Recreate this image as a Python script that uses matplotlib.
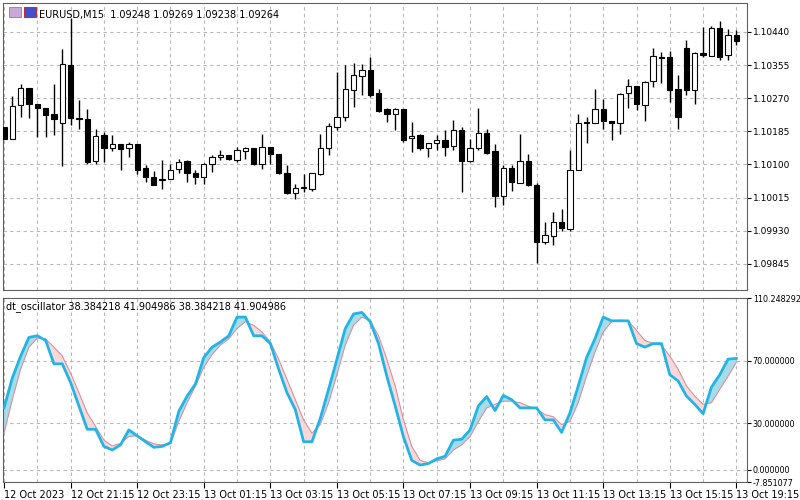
import matplotlib.pyplot as plt
from matplotlib.patches import Rectangle
import numpy as np

# EURUSD M15 candles (open, high, low, close)
opens = [1.10197, 1.10166, 1.10253, 1.10296, 1.10255, 1.10246, 1.10229, 1.10207, 1.10356, 1.10218,
         1.10216, 1.10109, 1.10176, 1.10143, 1.10152, 1.10143, 1.10152, 1.10092, 1.10068, 1.10060,
         1.10062, 1.10089, 1.10108, 1.10078, 1.10069, 1.10102, 1.10118, 1.10124, 1.10111, 1.10135,
         1.10142, 1.10100, 1.10145, 1.10126, 1.10079, 1.10027, 1.10040, 1.10038, 1.10076, 1.10141,
         1.10195, 1.10221, 1.10291, 1.10327, 1.10343, 1.10284, 1.10241, 1.10229, 1.10241, 1.10168,
         1.10175, 1.10141, 1.10154, 1.10162, 1.10147, 1.10188, 1.10109, 1.10141, 1.10181, 1.10134,
         1.10019, 1.10092, 1.10053, 1.10109, 1.10046, 1.09900, 1.09917, 1.09952, 1.09934, 1.10085,
         1.10205, 1.10207, 1.10241, 1.10212, 1.10205, 1.10284, 1.10302, 1.10252, 1.10315, 1.10373,
         1.10376, 1.10293, 1.10399, 1.10290, 1.10386, 1.10379, 1.10449, 1.10380, 1.10433]
highs = [1.10197, 1.10276, 1.10307, 1.10296, 1.10255, 1.10246, 1.10307, 1.10396, 1.10476, 1.10266,
         1.10243, 1.10192, 1.10184, 1.10175, 1.10152, 1.10158, 1.10152, 1.10098, 1.10083, 1.10111,
         1.10102, 1.10115, 1.10111, 1.10085, 1.10104, 1.10124, 1.10136, 1.10124, 1.10145, 1.10145,
         1.10142, 1.10179, 1.10145, 1.10126, 1.10098, 1.10050, 1.10075, 1.10079, 1.10179, 1.10205,
         1.10336, 1.10356, 1.10360, 1.10358, 1.10376, 1.10293, 1.10244, 1.10244, 1.10241, 1.10210,
         1.10179, 1.10154, 1.10175, 1.10188, 1.10214, 1.10197, 1.10166, 1.10244, 1.10190, 1.10152,
         1.10098, 1.10098, 1.10179, 1.10128, 1.10052, 1.09952, 1.09977, 1.09986, 1.10136, 1.10229,
         1.10221, 1.10293, 1.10268, 1.10212, 1.10284, 1.10320, 1.10302, 1.10313, 1.10399, 1.10388,
         1.10390, 1.10330, 1.10420, 1.10388, 1.10453, 1.10455, 1.10467, 1.10448, 1.10446]
lows = [1.10166, 1.10164, 1.10222, 1.10218, 1.10171, 1.10171, 1.10175, 1.10096, 1.10201, 1.10192,
        1.10100, 1.10102, 1.10106, 1.10135, 1.10087, 1.10118, 1.10076, 1.10055, 1.10046, 1.10036,
        1.10062, 1.10079, 1.10055, 1.10050, 1.10050, 1.10081, 1.10112, 1.10112, 1.10106, 1.10115,
        1.10098, 1.10089, 1.10102, 1.10076, 1.10025, 1.10012, 1.10029, 1.10033, 1.10072, 1.10125,
        1.10188, 1.10212, 1.10248, 1.10278, 1.10272, 1.10235, 1.10210, 1.10188, 1.10158, 1.10132,
        1.10138, 1.10119, 1.10138, 1.10121, 1.10138, 1.10029, 1.10106, 1.10136, 1.10126, 1.09992,
        1.09995, 1.10033, 1.10053, 1.10044, 1.09848, 1.09897, 1.09894, 1.09930, 1.09930, 1.10085,
        1.10154, 1.10205, 1.10191, 1.10162, 1.10179, 1.10244, 1.10240, 1.10211, 1.10298, 1.10310,
        1.10259, 1.10191, 1.10277, 1.10255, 1.10376, 1.10377, 1.10369, 1.10369, 1.10407]
closes = [1.10166, 1.10250, 1.10296, 1.10255, 1.10244, 1.10228, 1.10216, 1.10358, 1.10218, 1.10216,
          1.10106, 1.10173, 1.10143, 1.10152, 1.10139, 1.10152, 1.10087, 1.10068, 1.10046, 1.10062,
          1.10087, 1.10106, 1.10078, 1.10068, 1.10102, 1.10119, 1.10124, 1.10115, 1.10136, 1.10142,
          1.10100, 1.10145, 1.10126, 1.10078, 1.10026, 1.10040, 1.10042, 1.10079, 1.10142, 1.10198,
          1.10221, 1.10293, 1.10330, 1.10343, 1.10278, 1.10237, 1.10229, 1.10242, 1.10162, 1.10173,
          1.10141, 1.10154, 1.10162, 1.10145, 1.10188, 1.10109, 1.10141, 1.10181, 1.10130, 1.10019,
          1.10092, 1.10055, 1.10109, 1.10046, 1.09900, 1.09919, 1.09952, 1.09936, 1.10087, 1.10205,
          1.10209, 1.10241, 1.10212, 1.10205, 1.10281, 1.10302, 1.10255, 1.10311, 1.10377, 1.10376,
          1.10291, 1.10222, 1.10290, 1.10386, 1.10381, 1.10449, 1.10376, 1.10433, 1.10416]

# dt_oscillator lines
fast = [39.7, 59, 73, 85, 86, 83, 68, 68, 56, 41, 26, 26, 15, 12.7, 16, 25.6, 21.8, 18, 14.4, 15,
        17.4, 37.5, 47.3, 55, 72, 78.7, 82, 86, 98, 98, 86, 86, 81, 64.6, 49.5, 38.6, 18, 18, 33, 51.6,
        71, 90.6, 100, 101, 95, 81, 60, 41, 21, 6, 3, 4, 7, 8.7, 19, 19.6, 25.6, 41, 47, 38,
        47.7, 45, 39.7, 39.7, 39.7, 32, 32, 24, 36.5, 53.8, 72, 84, 98, 95.6, 95.6, 95.6, 81, 78.7, 81, 81,
        61, 57, 47.3, 42, 36, 53, 61, 71, 71.5]
slow = [23.5, 45, 64.6, 78.7, 84.5, 84, 78.7, 73, 62, 49.5, 36.5, 27.8, 19, 15.3, 17, 21.3, 21.8, 19, 16.6, 16,
        16.6, 31, 43, 53.8, 65.7, 74, 80, 84, 90.6, 95, 92.7, 88.4, 82, 71, 58, 45, 32, 23.5, 29, 43,
        61, 80, 92.7, 98, 95.6, 86, 71, 53.8, 32, 15, 6, 4.4, 5.7, 7, 12.7, 16, 21.3, 31, 39.7, 42,
        44, 44, 43, 40.8, 39, 35.4, 34, 29, 31, 43, 60, 75.4, 88.4, 95, 96, 95.6, 89.5, 83, 81, 80,
        73, 64.6, 53.8, 47.3, 42, 43, 51.6, 60, 69]

price_ticks = [1.09845, 1.09930, 1.10015, 1.10100, 1.10185, 1.10270, 1.10355, 1.10440]
osc_ticks = [110.248292, 70.0, 30.0, 0.0, -7.851077]
time_labels = ["12 Oct 2023", "12 Oct 21:15", "12 Oct 23:15", "13 Oct 01:15", "13 Oct 03:15",
               "13 Oct 05:15", "13 Oct 07:15", "13 Oct 09:15", "13 Oct 11:15", "13 Oct 13:15",
               "13 Oct 15:15", "13 Oct 19:15"]
time_pos = [0, 8, 16, 24, 32, 40, 48, 56, 64, 72, 80, 88]

plt.rcParams['font.family'] = 'DejaVu Sans'
plt.rcParams['font.size'] = 7

fig = plt.figure(figsize=(8, 5), dpi=100)
ax1 = fig.add_axes([0.004, 0.42, 0.93, 0.574])
ax2 = fig.add_axes([0.004, 0.036, 0.93, 0.368])

x = np.arange(len(opens))
o = np.array(opens); c = np.array(closes)
ax1.vlines(x, lows, highs, color='black', lw=1, zorder=2)
for i in x:
    up = c[i] >= o[i]
    lo = min(o[i], c[i]); h = max(abs(c[i] - o[i]), 0.000008)
    ax1.add_patch(Rectangle((i - 0.32, lo), 0.64, h, facecolor='white' if up else 'black',
                            edgecolor='black', lw=0.8, zorder=3))
ax1.set_ylim(1.09778, 1.10514)
ax1.set_yticks(price_ticks)
ax1.set_yticklabels(["%.5f" % p for p in price_ticks])
ax1.text(0.048, 0.975, "EURUSD,M15  1.09248 1.09269 1.09238 1.09264", transform=ax1.transAxes,
         va='top', fontsize=7)
ax1.add_patch(Rectangle((0.008, 0.95), 0.016, 0.035, transform=ax1.transAxes, facecolor='#c8a8d8', edgecolor='#7070a0', lw=0.5))
ax1.add_patch(Rectangle((0.028, 0.95), 0.016, 0.035, transform=ax1.transAxes, facecolor='#4050d0', edgecolor='#c03030', lw=0.8))

ax2.plot(x, slow, color='#d890a0', lw=0.8, zorder=3)
f = np.array(fast); s = np.array(slow)
ax2.fill_between(x, f, s, where=f >= s, interpolate=True, color='#a8dce8', lw=0)
ax2.fill_between(x, f, s, where=f < s, interpolate=True, color='#fbd8d8', lw=0)
ax2.plot(x, fast, color='#22b4e6', lw=2, zorder=4)
ax2.set_ylim(-7.851077, 110.248292)
ax2.set_yticks(osc_ticks)
ax2.set_yticklabels(["%.6f" % v for v in osc_ticks])
ax2.text(0.004, 0.985, "dt_oscillator 38.384218 41.904986 38.384218 41.904986", transform=ax2.transAxes,
         va='top', fontsize=7)

for ax in (ax1, ax2):
    ax.set_xlim(-0.1, 89.3)
    ax.yaxis.tick_right()
    ax.tick_params(axis='y', length=3, pad=1, labelsize=6.5)
    for v in np.arange(0, 90, 4):
        ax.axvline(v, color='#b8b8b8', ls=(0, (3, 3)), lw=0.8, zorder=0)
    for sp in ax.spines.values():
        sp.set_color('#606060')
ax2.tick_params(axis='y', labelsize=5.8)
for v in price_ticks:
    ax1.axhline(v, color='#b8b8b8', ls=(0, (3, 3)), lw=0.8, zorder=0)
for v in [70, 30, 0]:
    ax2.axhline(v, color='#b8b8b8', ls=(0, (3, 3)), lw=0.8, zorder=0)

ax1.set_xticks([])
ax2.set_xticks(time_pos)
ax2.set_xticklabels(time_labels, ha='left')
ax2.tick_params(axis='x', length=4, pad=2, labelsize=7)

fig.savefig("out.png", dpi=100)
